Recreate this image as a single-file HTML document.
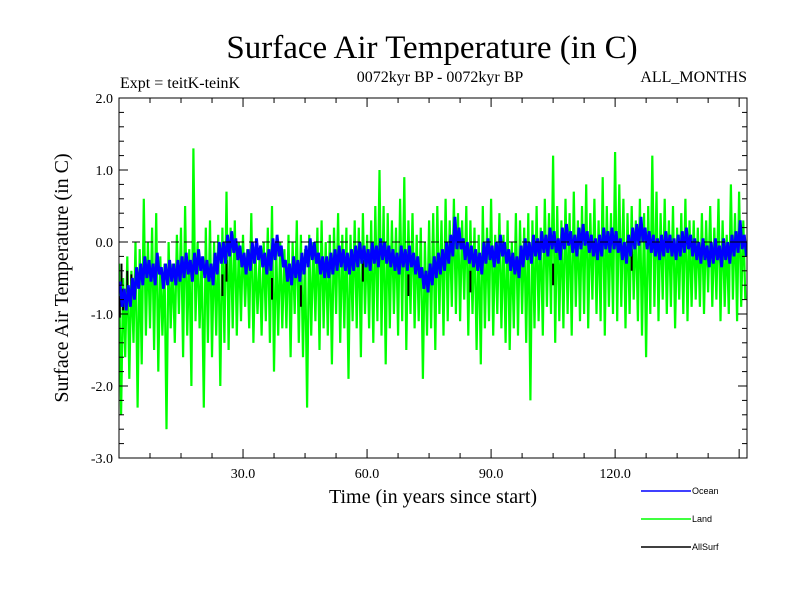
<!DOCTYPE html>
<html><head><meta charset="utf-8"><style>
body{margin:0;background:#fff}
svg text{font-family:"Liberation Serif",serif}
</style></head><body>
<svg id="chart" width="800" height="600" viewBox="0 0 800 600">
<text x="432" y="58" font-size="33" text-anchor="middle">Surface Air Temperature (in C)</text>
<text x="120" y="88" font-size="16">Expt = teitK-teinK</text>
<text x="440" y="82" font-size="16" text-anchor="middle">0072kyr BP - 0072kyr BP</text>
<text x="747" y="82" font-size="16" text-anchor="end">ALL_MONTHS</text>
<text transform="translate(68,278) rotate(-90)" font-size="20" text-anchor="middle">Surface Air Temperature (in C)</text>
<text x="433" y="503" font-size="20" text-anchor="middle">Time (in years since start)</text>
<g id="plot"></g>
<g id="axes"></g>
<g id="legend"></g>
</svg>
<script>
const landHi=[-0.3,-0.5,-0.2,-0.4,0.0,-0.1,0.6,0.0,0.2,0.4,
-0.2,-0.3,0.0,-0.3,0.1,0.2,0.5,-0.1,1.3,0.0,
-0.2,0.2,0.3,0.0,0.1,0.2,0.7,0.2,0.3,0.0,
0.1,-0.1,0.4,-0.1,-0.2,0.0,0.2,0.5,0.0,0.0,
-0.1,0.1,0.0,0.3,0.1,-0.1,0.1,0.0,0.2,0.3,
0.0,0.1,0.2,0.4,0.1,0.2,0.1,0.3,0.2,0.4,
0.1,0.3,0.5,1.0,0.5,0.4,0.3,0.2,0.6,0.9,
0.3,0.4,0.1,0.2,0.0,0.3,0.4,0.5,0.3,0.6,
0.3,0.6,0.4,0.3,0.5,0.3,0.2,0.1,0.5,0.2,
0.6,0.1,0.4,0.1,0.3,0.0,0.4,0.3,0.2,0.4,
0.3,0.5,0.2,0.6,0.4,1.2,0.5,0.3,0.6,0.4,
0.7,0.3,0.5,0.8,0.4,0.6,0.3,0.9,0.5,0.4,
1.25,0.8,0.6,0.4,0.5,0.3,0.6,0.4,0.5,1.2,
0.7,0.4,0.6,0.3,0.5,0.2,0.4,0.6,0.3,0.3,
0.2,0.4,0.3,0.5,0.2,0.6,0.3,0.1,0.8,0.4,
0.7,0.3];
const landLo=[-2.4,-1.6,-1.9,-1.4,-2.3,-1.7,-1.3,-1.2,-1.5,-1.8,
-1.3,-2.6,-1.2,-1.4,-1.0,-1.6,-1.3,-2.0,-1.1,-1.2,
-2.3,-1.4,-1.6,-1.3,-2.0,-1.4,-1.5,-1.2,-1.3,-1.1,
-0.9,-1.2,-1.4,-1.0,-1.3,-1.1,-1.4,-1.8,-1.3,-1.2,
-1.2,-1.6,-1.0,-1.4,-1.6,-2.3,-1.3,-1.1,-1.5,-1.2,
-1.3,-1.7,-1.0,-1.4,-1.2,-1.9,-1.1,-1.2,-1.6,-1.0,
-1.2,-1.4,-1.1,-1.3,-1.7,-1.2,-1.0,-1.3,-1.1,-1.5,
-1.0,-1.2,-1.1,-1.9,-1.3,-1.2,-1.5,-1.0,-1.3,-1.1,
-0.9,-1.0,-1.1,-0.8,-1.3,-1.0,-1.5,-1.7,-1.2,-1.1,
-1.3,-1.0,-1.2,-1.4,-1.5,-1.2,-1.3,-1.0,-1.4,-2.2,
-1.2,-1.1,-1.3,-0.9,-1.0,-1.4,-1.1,-1.2,-1.0,-1.3,
-0.9,-1.1,-1.0,-1.2,-0.8,-1.0,-1.1,-1.3,-0.9,-1.0,
-1.1,-0.9,-1.2,-1.0,-0.8,-1.1,-1.3,-1.6,-1.0,-0.9,
-1.1,-0.8,-1.0,-0.9,-1.2,-0.8,-1.0,-1.1,-0.9,-0.8,
-0.9,-1.0,-0.7,-0.9,-0.8,-1.1,-0.9,-1.0,-0.8,-1.1,
-0.9,-0.8];
const oceanHi=[-0.55,-0.65,-0.6,-0.5,-0.35,-0.3,-0.2,-0.25,-0.3,-0.15,
-0.35,-0.3,-0.25,-0.3,-0.25,-0.2,-0.15,-0.25,-0.15,-0.1,
-0.2,-0.25,-0.3,-0.15,0.0,0.0,0.1,0.15,0.05,-0.05,
-0.15,-0.1,0.0,0.05,-0.05,-0.15,-0.1,0.05,0.1,-0.05,
-0.25,-0.3,-0.2,-0.25,-0.15,-0.05,0.05,0.0,-0.15,-0.2,
-0.2,-0.15,-0.1,-0.05,-0.1,-0.15,-0.1,-0.05,0.0,-0.05,
-0.1,0.0,-0.05,0.05,0.0,-0.05,-0.1,-0.15,-0.05,-0.1,
-0.05,-0.15,-0.2,-0.35,-0.4,-0.3,-0.2,-0.15,-0.1,0.0,
0.1,0.35,0.2,0.05,0.0,-0.05,-0.1,-0.15,0.0,0.05,
-0.05,0.0,0.1,0.0,-0.1,-0.15,-0.2,-0.05,0.05,0.0,
0.1,0.05,0.15,0.1,0.2,0.15,0.05,0.2,0.25,0.15,
0.1,0.2,0.25,0.15,0.1,0.05,0.1,0.2,0.15,0.2,
0.15,0.05,0.0,0.1,0.2,0.25,0.35,0.2,0.15,0.1,
0.05,0.1,0.15,0.1,0.05,0.1,0.15,0.2,0.1,0.05,
0.0,0.05,-0.05,0.0,0.05,-0.05,0.05,0.0,0.1,0.15,
0.3,0.1];
const oceanLo=[-0.9,-0.95,-0.9,-0.8,-0.65,-0.6,-0.5,-0.55,-0.6,-0.45,
-0.65,-0.6,-0.55,-0.6,-0.55,-0.5,-0.45,-0.55,-0.45,-0.4,
-0.5,-0.55,-0.6,-0.45,-0.3,-0.3,-0.2,-0.15,-0.25,-0.35,
-0.45,-0.4,-0.3,-0.25,-0.35,-0.45,-0.4,-0.25,-0.2,-0.35,
-0.55,-0.6,-0.5,-0.55,-0.45,-0.35,-0.25,-0.3,-0.45,-0.5,
-0.5,-0.45,-0.4,-0.35,-0.4,-0.45,-0.4,-0.35,-0.3,-0.35,
-0.4,-0.3,-0.35,-0.25,-0.3,-0.35,-0.4,-0.45,-0.35,-0.4,
-0.35,-0.45,-0.5,-0.65,-0.7,-0.6,-0.5,-0.45,-0.4,-0.3,
-0.2,-0.1,-0.1,-0.25,-0.3,-0.35,-0.4,-0.45,-0.3,-0.25,
-0.35,-0.3,-0.2,-0.3,-0.4,-0.45,-0.5,-0.35,-0.25,-0.3,
-0.2,-0.25,-0.15,-0.2,-0.1,-0.15,-0.25,-0.1,-0.05,-0.15,
-0.2,-0.1,-0.05,-0.15,-0.2,-0.25,-0.2,-0.1,-0.15,-0.1,
-0.15,-0.25,-0.3,-0.2,-0.1,-0.05,0.0,-0.1,-0.15,-0.2,
-0.25,-0.2,-0.15,-0.2,-0.25,-0.2,-0.15,-0.1,-0.2,-0.25,
-0.3,-0.25,-0.35,-0.3,-0.25,-0.35,-0.25,-0.3,-0.2,-0.15,
-0.1,-0.2];
const allSurfYears=[0.2,0.6,1,2,3,25,26,37,44,59,70,85,105,124];
const allSurfValues=[-1.05,-0.6,-0.95,-0.7,-0.75,-0.75,-0.55,-0.8,-0.9,-0.55,-0.75,-0.7,-0.6,-0.4];
const yTicks=[2.0,1.0,0.0,-1.0,-2.0,-3.0];
const yTickLabels=["2.0","1.0","0.0","-1.0","-2.0","-3.0"];
const xTicks=[30,60,90,120];
const xTickLabels=["30.0","60.0","90.0","120.0"];

const L=119,R=747,T=98,B=458,X0=0,X1=151.9,Y0=-3,Y1=2;
const sx=v=>L+(v-X0)/(X1-X0)*(R-L);
const sy=v=>B-(v-Y0)/(Y1-Y0)*(B-T);
const NS="http://www.w3.org/2000/svg";
const plot=document.getElementById('plot'),axes=document.getElementById('axes'),legend=document.getElementById('legend');
function mk(tag,attrs,parent){const e=document.createElementNS(NS,tag);for(const k in attrs)e.setAttribute(k,attrs[k]);parent.appendChild(e);return e;}

const clip=mk('clipPath',{id:'pc'},plot);mk('rect',{x:L,y:T,width:R-L,height:B-T},clip);
function zig(hi,lo,off){let d='';for(let i=0;i<hi.length;i++){d+=(i?'L':'M')+sx(i+off).toFixed(1)+','+sy(hi[i]).toFixed(1)+'L'+sx(i+off+0.5).toFixed(1)+','+sy(lo[i]).toFixed(1);}return d;}
const land=mk('path',{d:zig(landHi,landLo,0),fill:'none',stroke:'#00ff00','stroke-width':2.2,'clip-path':'url(#pc)'},plot);


let ad='';allSurfYears.forEach((x,i)=>{ad+='M'+sx(x).toFixed(1)+','+sy(allSurfValues[i]).toFixed(1)+'L'+sx(x).toFixed(1)+','+sy(allSurfValues[i]+0.3).toFixed(1);});
const all=mk('path',{d:ad,fill:'none',stroke:'#000','stroke-width':2,'clip-path':'url(#pc)'},plot);


const ocean=mk('path',{d:zig(oceanHi,oceanLo,0.25),fill:'none',stroke:'#0000ff','stroke-width':2.8,'clip-path':'url(#pc)'},plot);


const zl=mk('line',{x1:L,x2:R,y1:sy(0),y2:sy(0),stroke:'#000','stroke-dasharray':'8,5','stroke-width':1},plot);



const frame=mk('rect',{x:L,y:T,width:R-L,height:B-T,fill:'none',stroke:'#000','stroke-width':1},axes);


for(let v=-3;v<=2.001;v+=0.2){const y=sy(v);const maj=Math.abs(v-Math.round(v))<1e-6;const w=maj?9:5;
 mk('line',{x1:L,x2:L+w,y1:y,y2:y,stroke:'#000'},axes);mk('line',{x1:R-w,x2:R,y1:y,y2:y,stroke:'#000'},axes);}
yTicks.forEach((v,i)=>{const t=mk('text',{x:L-6,y:sy(v)+5,'font-size':14,'text-anchor':'end'},axes);t.textContent=yTickLabels[i];
 
 });
for(let v=7.5;v<X1;v+=7.5){const x=sx(v);const maj=Math.abs(v/30-Math.round(v/30))<1e-6;const h=maj?9:5;
 mk('line',{x1:x,x2:x,y1:B-h,y2:B,stroke:'#000'},axes);mk('line',{x1:x,x2:x,y1:T,y2:T+h,stroke:'#000'},axes);}
xTicks.forEach((v,i)=>{const t=mk('text',{x:sx(v),y:B+20,'font-size':14,'text-anchor':'middle'},axes);t.textContent=xTickLabels[i];
 
 });

const legNames=["Ocean","Land","AllSurf"],legColors=["#0000ff","#00ff00","#000"];
legNames.forEach((n,i)=>{const y=491+i*28;
 const g=mk('g',{},legend);
 
 
 mk('line',{x1:641,x2:691,y1:y,y2:y,stroke:legColors[i],'stroke-width':1.5},g);
 const t=mk('text',{x:692,y:y+3,'font-size':9},g);t.style.fontFamily='"Liberation Sans",sans-serif';t.textContent=n;});
</script>
</body></html>
